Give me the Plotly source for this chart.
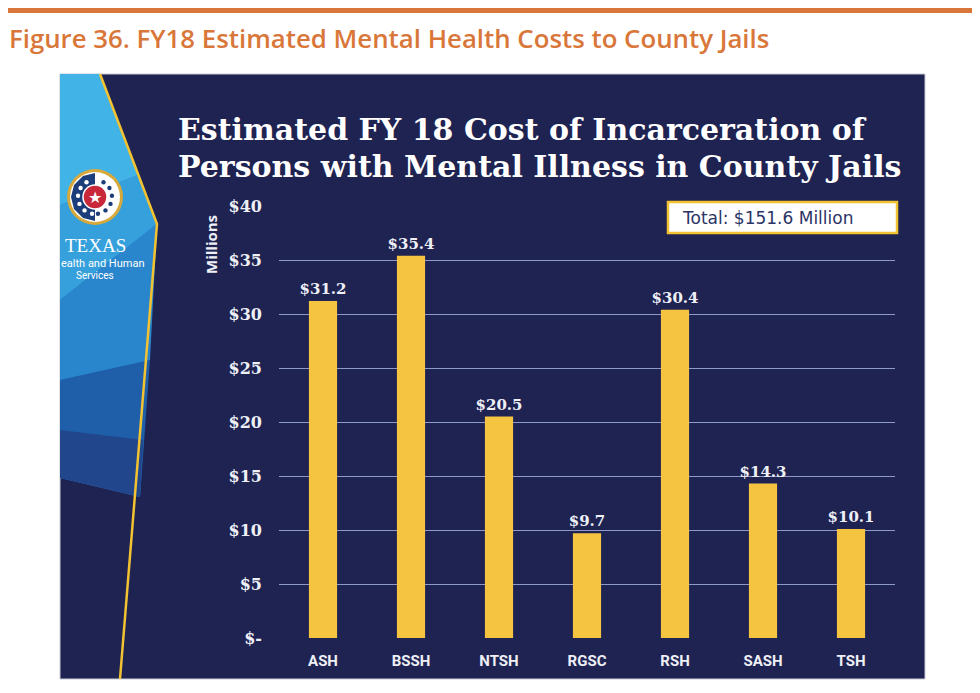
import math
import plotly.graph_objects as go

# ---- data ----
categories = ["ASH", "BSSH", "NTSH", "RGSC", "RSH", "SASH", "TSH"]
costs_millions = [31.2, 35.4, 20.5, 9.7, 30.4, 14.3, 10.1]
tick_values = [0, 5, 10, 15, 20, 25, 30, 35, 40]
tick_labels = ["$-", "$5", "$10", "$15", "$20", "$25", "$30", "$35", "$40"]
total_label = "Total: $151.6 Million"
figure_title = "Figure 36. FY18 Estimated Mental Health Costs to County Jails"
chart_title_lines = ["Estimated FY 18 Cost of Incarceration of",
                     "Persons with Mental Illness in County Jails"]

# ---- layout geometry (page pixels; the page adds an 8px body margin) ----
OFF = 8
W, H = 980, 693
PLOT_X0, PLOT_X1, PLOT_Y0, PLOT_Y1 = 279, 895, 206, 638   # page coords
L = PLOT_X0 - OFF
R = W - (PLOT_X1 - OFF)
T = PLOT_Y0 - OFF
B = H - (PLOT_Y1 - OFF)
PW, PH = PLOT_X1 - PLOT_X0, PLOT_Y1 - PLOT_Y0


def px(x):
    return (x - PLOT_X0) / PW


def py(y):
    return (PLOT_Y1 - y) / PH


def path(points, close=True):
    s = "M " + " L ".join(f"{px(x)},{py(y)}" for x, y in points)
    return s + (" Z" if close else "")


NAVY = "#1f2352"
YELLOW = "#f5c542"
ORANGE = "#d9773a"
LIGHT = "#eef0f6"

fig = go.Figure()
fig.add_trace(go.Bar(
    x=categories, y=costs_millions,
    marker=dict(color=YELLOW, line=dict(width=0)),
    texttemplate="$%{y:.1f}", textposition="outside", constraintext="none",
    textfont=dict(family="DejaVu Serif", size=15, color=LIGHT, weight="bold"),
    cliponaxis=False, width=0.32,
))

shapes = []
# top orange rule
shapes.append(dict(type="rect", xref="paper", yref="paper", x0=px(4), x1=px(976), y0=py(8), y1=py(13),
                   fillcolor=ORANGE, line=dict(width=0), layer="below"))
# slide panel
shapes.append(dict(type="rect", xref="paper", yref="paper", x0=px(60), x1=px(925), y0=py(74), y1=py(679),
                   fillcolor=NAVY, line=dict(color="#c9cbd6", width=1), layer="below"))
# left blue facets
facets = [
    ([(60, 74), (100, 74), (157, 224), (140, 497), (60, 478)], "#2a78c2"),
    ([(60, 74), (100, 74), (138, 175), (60, 205)], "#42b3e6"),
    ([(60, 205), (138, 175), (157, 224), (60, 300)], "#35a0dc"),
    ([(60, 300), (157, 224), (150, 360), (60, 380)], "#2a86cc"),
    ([(60, 380), (150, 360), (140, 497), (60, 430)], "#1f5ea8"),
    ([(60, 430), (143, 440), (140, 497), (60, 478)], "#22468c"),
]
for pts, col in facets:
    shapes.append(dict(type="path", xref="paper", yref="paper", path=path(pts),
                       fillcolor=col, line=dict(width=0), layer="below"))
# yellow border line
shapes.append(dict(type="path", xref="paper", yref="paper",
                   path=path([(100, 74), (157, 224), (120, 679)], close=False),
                   line=dict(color="#f2c230", width=2.5), layer="below"))
# logo
cx, cy = 95, 197


def circ(x, y, r, fill, lc=None, lw=0, rx=None):
    rx = r if rx is None else rx
    return dict(type="circle", xref="paper", yref="paper", x0=px(x - rx), x1=px(x + rx),
                y0=py(y + r), y1=py(y - r), fillcolor=fill,
                line=dict(color=lc or fill, width=lw), layer="below")


shapes.append(circ(cx, cy, 28, "#d8a93a"))
shapes.append(circ(cx, cy, 25, "#ffffff"))
shapes.append(dict(type="path", xref="paper", yref="paper",
                   path=path([(cx, cy - 24), (cx - 12, cy - 21), (cx - 21, cy - 12), (cx - 24, cy),
                              (cx - 21, cy + 12), (cx - 12, cy + 21), (cx, cy + 24)]),
                   fillcolor="#1d3d7a", line=dict(width=0), layer="below"))
# laurel leaves
for ang in range(-60, 100, 28):
    a = math.radians(ang)
    for side, col in ((-1, "#ffffff"), (1, "#1d3d7a")):
        lx = cx + side * 17 * math.cos(a)
        ly = cy + 17 * math.sin(a)
        shapes.append(circ(lx, ly, 2.2, col, rx=2.2))
shapes.append(circ(cx, cy, 12, "#c8283a", "#ffffff", 1.5))

# total box
shapes.append(dict(type="rect", xref="paper", yref="paper", x0=px(668), x1=px(897), y0=py(202), y1=py(233),
                   fillcolor="#ffffff", line=dict(color="#f2c230", width=2.5)))

annotations = [
    dict(text=figure_title, x=px(7), y=py(38), xanchor="left", yanchor="middle",
         font=dict(family="Open Sans", size=25.8, color=ORANGE, weight=600)),
    dict(text=chart_title_lines[0], x=px(176), y=py(129), xanchor="left", yanchor="middle",
         font=dict(family="DejaVu Serif", size=30, color="#ffffff", weight="bold")),
    dict(text=chart_title_lines[1], x=px(176), y=py(166), xanchor="left", yanchor="middle",
         font=dict(family="DejaVu Serif", size=30, color="#ffffff", weight="bold")),
    dict(text="Millions", x=px(211), y=py(245), xanchor="center", yanchor="middle", textangle=-90,
         font=dict(family="Open Sans", size=15, color=LIGHT, weight="bold")),
    dict(text=total_label, x=px(680), y=py(218), xanchor="left", yanchor="middle",
         font=dict(family="DejaVu Sans", size=17, color="#2b3466")),
    dict(text="★", x=px(cx), y=py(cy), xanchor="center", yanchor="middle",
         font=dict(family="DejaVu Sans", size=16, color="#ffffff")),
    dict(text="TEXAS", x=px(95), y=py(245), xanchor="center", yanchor="middle",
         font=dict(family="Liberation Serif", size=19, color="#ffffff")),
    dict(text="ealth and Human", x=px(59), y=py(263), xanchor="left", yanchor="middle",
         font=dict(family="Roboto", size=11, color="#ffffff")),
    dict(text="Services", x=px(95), y=py(275), xanchor="center", yanchor="middle",
         font=dict(family="Roboto", size=10, color="#ffffff")),
]
for a in annotations:
    a.update(xref="paper", yref="paper", showarrow=False)

fig.update_layout(
    width=W, height=H, margin=dict(l=L, r=R, t=T, b=B, pad=0),
    paper_bgcolor="#ffffff", plot_bgcolor="rgba(0,0,0,0)",
    shapes=shapes, annotations=annotations, showlegend=False,
    xaxis=dict(showgrid=False, zeroline=False, showline=False, ticks="",
               tickfont=dict(family="Roboto", size=15, color=LIGHT, weight="bold"),
               ticklabelstandoff=12),
    yaxis=dict(range=[0, 40], tickvals=tick_values, ticktext=tick_labels,
               showgrid=True, gridcolor="#8e9bc8", gridwidth=1, zeroline=False, showline=False,
               tickfont=dict(family="DejaVu Serif", size=16, color=LIGHT, weight="bold"),
               ticklabelstandoff=16),
)

fig.write_html("out.html")
